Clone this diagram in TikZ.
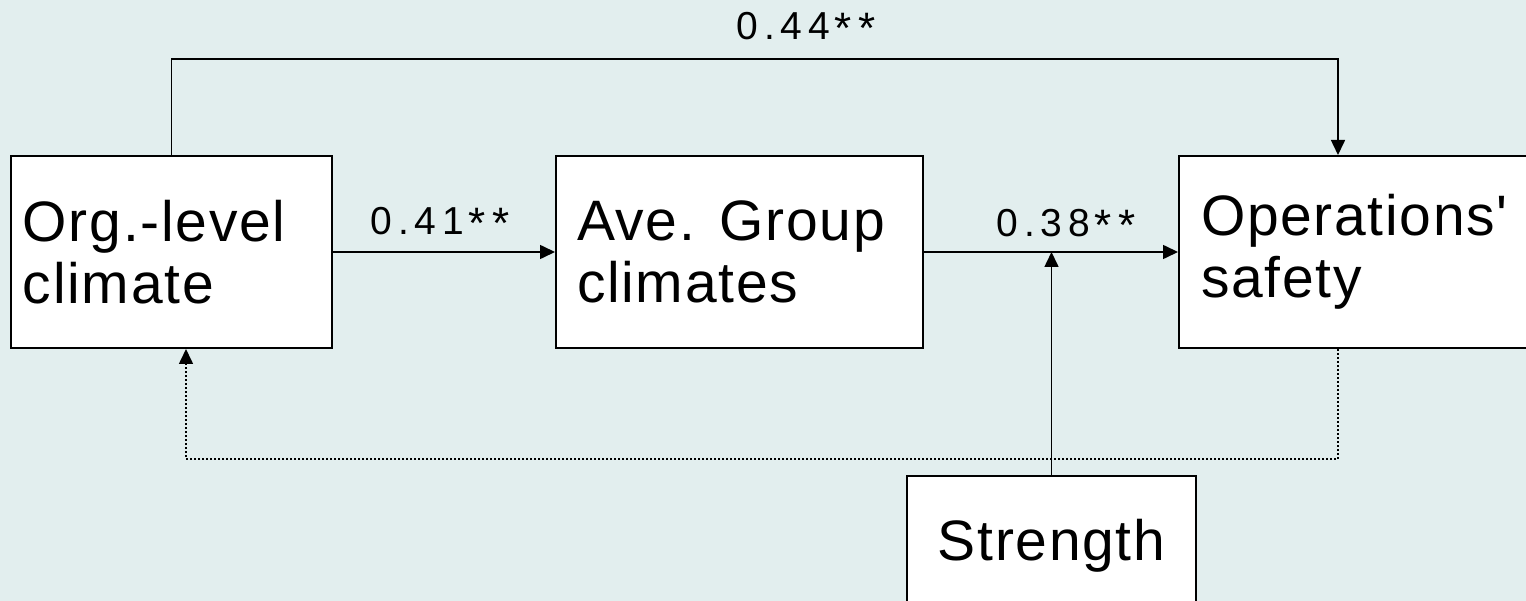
\documentclass[tikz,border=0pt]{standalone}
\usepackage{fontspec}
\setmainfont{Liberation Sans}
\newfontfamily\boxfont[LetterSpace=3]{Liberation Sans}
\newfontfamily\coeffont[LetterSpace=15]{Liberation Sans}
\usetikzlibrary{arrows.meta}
\definecolor{bg}{RGB}{226,238,238}
% significance stars, set a little larger and lower than the plain glyph
\newcommand{\sigstars}{\hspace{4pt}\raisebox{-4pt}{\fontsize{44}{44}\selectfont*\hspace{7pt}*}}
\tikzset{
  varbox/.style={draw=black, line width=2pt, fill=white, rectangle, anchor=north west,
    align=left, font=\boxfont\fontsize{57}{62}\selectfont},
  coef/.style={anchor=base, inner sep=0pt, font=\coeffont\fontsize{39}{44}\selectfont},
  link/.style={line width=1.6pt, -{Triangle[length=15pt,width=14pt]}},
  feedback/.style={line width=1.6pt, dash pattern=on 2pt off 2pt, -{Triangle[length=15pt,width=14pt]}}
}
\begin{document}
\begin{tikzpicture}[x=1pt,y=-1pt]
  \fill[bg] (0,0) rectangle (1526,601);
  \useasboundingbox (0,0) rectangle (1526,601);
  \clip (0,0) rectangle (1526,601);

  % variables
  \node[varbox, minimum width=321pt, minimum height=192pt, text width=297pt, inner xsep=12pt]
    (org) at (10,155) {Org.-level\\climate};
  \node[varbox, minimum width=367pt, minimum height=192pt, text width=325pt, inner xsep=21pt]
    (ave) at (555,155) {Ave.\hspace{-4pt} Group\\climates};
  \node[varbox, minimum width=420pt, minimum height=192pt, text width=376pt, inner xsep=22pt]
    (ops) at (1178,155) {Operations'\\safety};
  \node[varbox, align=center, minimum width=289pt, minimum height=140pt, text width=260pt]
    (str) at (906,475) {Strength};

  % path coefficients
  \node[coef] (c44) at (806,40) {0.44\sigstars};
  \node[coef] (c41) at (440,235) {0.41\sigstars};
  \node[coef] (c38) at (1066,237) {0.38\sigstars};

  % routing points
  \coordinate (top) at (1338,59);
  \coordinate (fbR) at (1338,459);
  \coordinate (fbL) at (186,459);

  % connectors
  \draw[link] (org.north) |- (top) -- (top |- ops.north);
  \draw[link] (org.east) -- (ave.west);
  \draw[link] (ave.east) -- (ops.west);
  \draw[link] (str.north) -- (str.north |- ave.east);
  \draw[feedback] (fbR |- ops.south) -- (fbR) -- (fbL) -- (fbL |- org.south);
\end{tikzpicture}
\end{document}
